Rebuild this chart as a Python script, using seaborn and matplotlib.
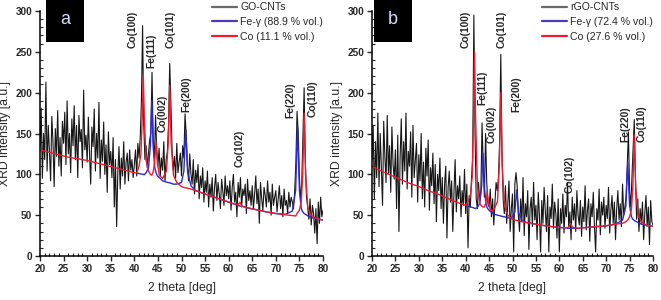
import numpy as np
import seaborn as sns
import matplotlib
matplotlib.use('Agg')
import matplotlib.pyplot as plt
from matplotlib.lines import Line2D
from matplotlib.patches import Rectangle
from matplotlib.ticker import MultipleLocator

# scan angle grid, 0.25 deg step
two_theta = np.arange(20, 80.001, 0.25)

counts_a = [
    132, 181, 95, 150, 118, 213, 104, 160, 128, 92, 171, 140, 85, 156, 122, 178, 110, 145, 98, 165,
    138, 176, 112, 190, 125, 150, 102, 168, 135, 184, 118, 160, 96, 172, 140, 155, 108, 203, 130, 148,
    115, 170, 126, 88, 158, 134, 180, 104, 150, 120, 188, 95, 142, 116, 164, 100, 136, 78, 152, 112,
    128, 96, 145, 60, 118, 36, 102, 134, 82, 120, 98, 140, 88, 115, 126, 92, 130, 105, 118, 96,
    112, 130, 98, 138, 120, 145, 190, 282, 160, 118, 135, 108, 126, 142, 150, 225, 140, 120, 172, 130,
    110, 132, 98, 120, 105, 140, 92, 118, 128, 160, 236, 188, 130, 105, 122, 95, 138, 102, 115, 126,
    98, 135, 120, 174, 148, 110, 92, 125, 100, 88, 118, 76, 105, 90, 112, 70, 98, 84, 108, 66,
    92, 78, 104, 60, 88, 72, 96, 55, 84, 100, 68, 90, 76, 58, 94, 80, 62, 98, 74, 86,
    70, 92, 56, 84, 100, 66, 78, 48, 90, 72, 96, 60, 82, 74, 88, 52, 94, 68, 80, 62,
    86, 58, 76, 98, 64, 82, 40, 90, 70, 56, 84, 74, 60, 92, 66, 78, 50, 88, 62, 72,
    80, 54, 70, 86, 58, 74, 48, 82, 62, 68, 52, 78, 60, 72, 66, 58, 80, 115, 177, 150,
    96, 68, 90, 150, 206, 118, 72, 60, 45, 70, 38, 62, 52, 28, 58, 15, 66, 40, 72, 48,
    56]

# measured trace, panel b (rGO-CNTs)
counts_b = [
    118, 160, 70, 140, 96, 175, 85, 150, 108, 62, 165, 122, 90, 172, 100, 135, 78, 158, 112, 94,
    130, 58, 148, 30, 120, 168, 88, 140, 104, 175, 82, 128, 110, 152, 72, 160, 96, 118, 138, 66,
    124, 92, 150, 70, 115, 60, 132, 98, 142, 56, 108, 86, 126, 64, 112, 42, 100, 80, 120, 58,
    96, 40, 88, 110, 22, 84, 104, 66, 92, 30, 78, 118, 54, 86, 70, 98, 48, 80, 62, 106,
    52, 88, 10, 74, 60, 96, 120, 295, 150, 70, 58, 90, 66, 80, 163, 110, 72, 150, 90, 64,
    60, 82, 48, 70, 38, 66, 90, 80, 96, 140, 247, 130, 70, 52, 86, 40, 64, 92, 30, 58,
    76, 5, 88, 102, 85, 50, 30, 70, 42, 96, 25, 64, 48, 80, 8, 58, 72, 36, 90, 44,
    62, 20, 78, 50, 5, 68, 40, 84, 55, 30, 74, 5, 60, 46, 88, 34, 66, 52, 22, 70,
    5, 58, 40, 76, 28, 62, 48, 90, 36, 54, 20, 72, 44, 64, 30, 80, 50, 38, 68, 24,
    60, 42, 86, 32, 56, 70, 18, 64, 48, 78, 36, 5, 58, 44, 82, 26, 66, 50, 72, 34,
    62, 46, 84, 28, 56, 74, 40, 66, 20, 58, 80, 44, 64, 36, 88, 50, 60, 72, 110, 152,
    80, 60, 95, 130, 167, 95, 45, 70, 30, 58, 40, 66, 20, 52, 74, 36, 60, 14, 68, 42,
    38]

# fitted curves (phase + background), read at these angles
fit_x = [20, 22, 24, 26, 28, 30, 32, 34, 36, 38,
         40, 40.5, 41, 41.4, 41.7, 41.9, 42.1, 42.5, 43.0, 43.4,
         43.7, 44.0, 44.3, 44.6, 44.9, 45.3, 46.0, 46.8, 47.2, 47.5,
         47.8, 48.3, 49.0, 50.0, 50.5, 50.9, 51.3, 52.0, 53, 55,
         57, 59, 61, 62.0, 62.4, 62.8, 64, 66, 68, 70,
         72, 73.5, 74.2, 74.6, 75.0, 75.4, 75.7, 76.0, 76.3, 76.8,
         77.5, 78.5, 80]

co_fit_a = [130, 127, 124, 121, 119, 117, 114, 111, 108, 105,
            102, 101.5, 110, 125, 174, 222, 173, 117, 104, 100,
            99, 103, 114, 140, 113, 99, 95, 104, 139, 209,
            138, 99, 90, 85, 84, 83.5, 83, 82, 80, 76,
            72, 68, 64, 63, 66, 61, 59, 56.5, 54, 52,
            50.5, 49.5, 49, 53, 56, 67, 100, 175, 100, 59,
            50, 46, 44]

# Fe curves start at 40.5 deg
fe_fit_a = [101.5, 101, 100.5, 100, 100, 99.5, 102, 108, 135,
            190, 134, 109, 102, 98, 96, 92, 90.5, 90, 89.5,
            89, 88, 88, 90, 104, 155, 103, 86, 80, 76,
            72, 68, 64, 62, 61, 61, 59, 56.5, 54, 52,
            51, 55, 80, 160, 80, 58, 54, 52, 51, 49,
            47, 46, 44]

co_fit_b = [110, 104, 99, 94, 89, 85, 80, 76, 71, 66,
            62, 67, 74, 97, 176, 250, 175, 86, 64.5, 61,
            60, 60, 65, 79, 64, 56, 56, 67, 112, 200,
            110, 61, 50, 45, 44, 43.5, 43, 42, 41, 39,
            37, 35.5, 34.5, 35, 40, 35, 34, 35, 36, 37,
            39, 40, 42, 44, 48, 57, 85, 148, 85, 50,
            42, 38, 36.5]

fe_fit_b = [61, 60, 59.5, 59, 58.5, 58, 59.5, 64.5, 85,
            126, 84, 65, 59, 56.5, 54.5, 51.5, 50, 49.5, 49,
            48.5, 48, 46.5, 48, 54, 81, 53, 44, 41, 39,
            37, 35.5, 34.5, 34, 34, 34, 34, 35, 36, 37,
            39, 44, 61, 115, 62, 48, 45, 43.5, 42.5, 41,
            39, 38, 36.5]

# reflection labels: centre angle and bottom of the text in counts
peak_names = ['Co(100)', 'Fe(111)', 'Co(002)', 'Co(101)', 'Fe(200)', 'Co(102)', 'Fe(220)', 'Co(110)']
label_x_a = [39.7, 43.7, 45.9, 47.6, 51.1, 62.4, 73.0, 77.7]
label_y_a = [255, 230, 152, 255, 176, 109, 169, 170]
label_x_b = [39.9, 43.5, 45.6, 47.7, 50.9, 62.3, 74.0, 77.6]
label_y_b = [255, 185, 138, 255, 176, 77, 140, 140]

legend_a = ['GO-CNTs', 'Fe-\u03b3 (88.9 % vol.)', 'Co (11.1 % vol.)']
legend_b = ['rGO-CNTs', 'Fe-\u03b3 (72.4 % vol.)', 'Co (27.6 % vol.)']

sns.set_style('ticks')
plt.rcParams['font.family'] = ['Liberation Sans', 'DejaVu Sans']

RED = '#ec1c2e'
BLUE = '#2a2ad2'

fig = plt.figure(figsize=(6.61, 3.0), dpi=100)
ax_a = fig.add_axes([40 / 661, 44 / 300, 283 / 661, 245 / 300])
ax_b = fig.add_axes([372 / 661, 44 / 300, 281 / 661, 245 / 300])


def draw_panel(ax, counts, co_fit, fe_fit, lab_x, lab_y, leg):
    sns.lineplot(x=two_theta, y=counts, ax=ax, color='#161616', lw=0.8, sort=False, estimator=None)
    sns.lineplot(x=fit_x[11:], y=fe_fit, ax=ax, color=BLUE, lw=1.0, sort=False, estimator=None)
    sns.lineplot(x=fit_x, y=co_fit, ax=ax, color=RED, lw=1.0, sort=False, estimator=None)

    for name, px, py in zip(peak_names, lab_x, lab_y):
        ax.text(px, py, name, rotation=90, ha='center', va='bottom',
                fontsize=7.4, fontweight='bold', clip_on=False)

    ax.set_xlim(20, 80)
    ax.set_ylim(0, 300)
    ax.xaxis.set_major_locator(MultipleLocator(5))
    ax.xaxis.set_minor_locator(MultipleLocator(1))
    ax.yaxis.set_major_locator(MultipleLocator(50))
    ax.yaxis.set_minor_locator(MultipleLocator(10))
    ax.tick_params(which='major', direction='out', length=3.5, width=1.0, labelsize=7.2, pad=2)
    ax.tick_params(which='minor', direction='in', length=2.5, width=0.8)
    for lbl in ax.get_xticklabels() + ax.get_yticklabels():
        lbl.set_fontweight('bold')
    sns.despine(ax=ax)
    for s in ['left', 'bottom']:
        ax.spines[s].set_linewidth(1.1)
        ax.spines[s].set_color('black')

    ax.set_xlabel('2 theta [deg]', fontsize=8.8, labelpad=6)
    ax.set_ylabel('XRD intensity [a.u.]', fontsize=8.8, labelpad=3)

    handles = [Line2D([], [], color='#6a6a6a', lw=1.6),
               Line2D([], [], color='#4a3cb4', lw=1.6),
               Line2D([], [], color=RED, lw=1.6)]
    ax.legend(handles, leg, loc='upper right', bbox_to_anchor=(1.0, 1.035), frameon=False,
              fontsize=7.6, handlelength=2.4, handletextpad=0.3, labelspacing=0.45,
              borderpad=0, borderaxespad=0)


draw_panel(ax_a, counts_a, co_fit_a, fe_fit_a, label_x_a, label_y_a, legend_a)
draw_panel(ax_b, counts_b, co_fit_b, fe_fit_b, label_x_b, label_y_b, legend_b)

# panel letters in black boxes
for left, letter in [(46, 'a'), (374, 'b')]:
    fig.patches.append(Rectangle((left / 661, 1 - 42 / 300), 38 / 661, 42 / 300,
                                 transform=fig.transFigure, facecolor='black', edgecolor='none'))
    fig.text((left + 19) / 661, 1 - 20 / 300, letter, color='#d8dcff', fontsize=13,
             ha='center', va='center')

fig.savefig('out.png', dpi=100)
